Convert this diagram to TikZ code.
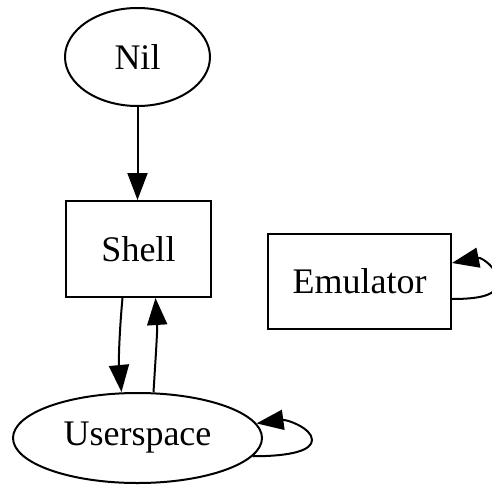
\documentclass[tikz,border=0pt]{standalone}
\usepackage{fontspec}
\setmainfont{Liberation Serif}
\usetikzlibrary{arrows.meta,shapes.geometric}
\begin{document}
\begin{tikzpicture}[x=1pt,y=-1pt,
  every node/.style={font=\fontsize{36}{40}\selectfont, inner sep=0pt, line width=2pt},
  oval/.style={draw, ellipse},
  box/.style={draw, rectangle},
  edge/.style={line width=2pt, -{Triangle[length=27pt,width=20pt]}}]
  \clip (0,0) rectangle (492,487);
  \useasboundingbox (0,0) rectangle (492,487);
  % nodes
  \node[oval, minimum width=145pt, minimum height=98pt] (nil) at (137.5,57) {Nil};
  \node[box, minimum width=145pt, minimum height=96pt] (shell) at (138.5,249) {Shell};
  \node[box, minimum width=183pt, minimum height=95pt] (emu) at (359.5,281.5) {Emulator};
  \node[oval, minimum width=249pt, minimum height=90pt] (user) at (137.5,438) {Userspace};
  % edges
  \draw[edge] (nil.south) -- (shell.north -| nil.south);
  \draw[edge] ([xshift=-16pt]shell.south) .. controls +(-3,32) and +(-3,-32) .. ([xshift=-16pt]user.north);
  \draw[edge] ([xshift=16pt]user.north) .. controls +(2,-32) and +(2,32) .. ([xshift=17pt]shell.south);
  % self loops
  \draw[edge] (user.-9) .. controls +(40,0) and +(0,10) .. (312,440) .. controls +(0,-12) and +(30,-4) .. (user.7);
  \draw[edge] ([yshift=-17.5pt]emu.east) .. controls +(35,0) and +(0,12) .. (498,281) .. controls +(0,-12) and +(30,-6) .. ([yshift=18.5pt]emu.east);
\end{tikzpicture}
\end{document}
